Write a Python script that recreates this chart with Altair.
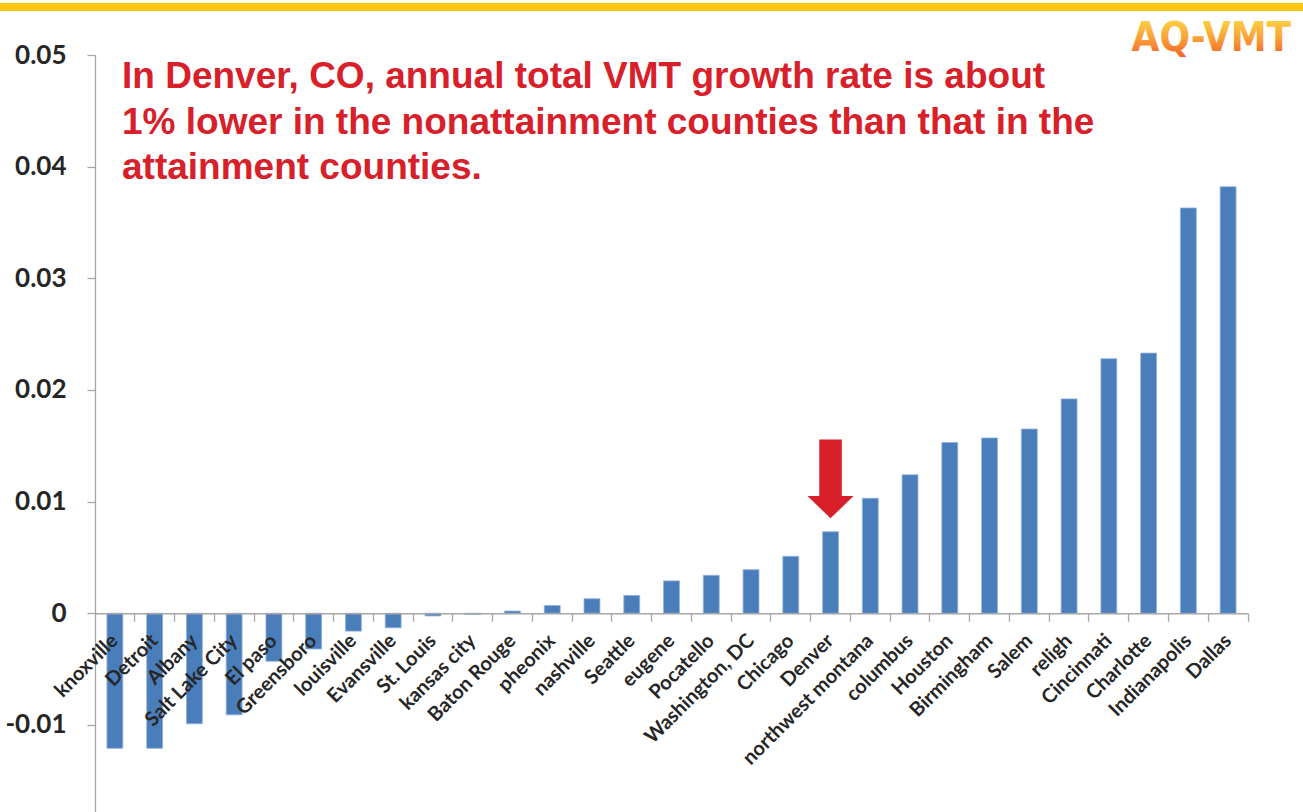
import altair as alt
import pandas as pd

cities = ["knoxville", "Detroit", "Albany", "Salt Lake City", "El paso", "Greensboro",
          "louisville", "Evansville", "St. Louis", "kansas city", "Baton Rouge", "pheonix",
          "nashville", "Seattle", "eugene", "Pocatello", "Washington, DC", "Chicago",
          "Denver", "northwest montana", "columbus", "Houston", "Birmingham", "Salem",
          "religh", "Cincinnati", "Charlotte", "Indianapolis", "Dallas"]
growth = [-0.0121, -0.0121, -0.0099, -0.0091, -0.0043, -0.0032,
          -0.0016, -0.0013, -0.00024, -0.0001, 0.0002, 0.0007,
          0.0013, 0.0016, 0.0029, 0.0034, 0.0039, 0.0051,
          0.0073, 0.0103, 0.0124, 0.0153, 0.0157, 0.0165,
          0.0192, 0.0228, 0.0233, 0.0363, 0.0382]
y_ticks = [-0.01, 0, 0.01, 0.02, 0.03, 0.04, 0.05]
y_domain = [-0.0178, 0.05]
headline = ["In Denver, CO, annual total VMT growth rate is about",
            "1% lower in the nonattainment counties than that in the",
            "attainment counties."]
arrow_city = ["Denver"]
arrow_center = [0.01204]
logo_text = "AQ-VMT"

W, H = 1153, 757
GREY = "#a6a6a6"
DARK = "#262626"
RED = "#d7202a"
zero_offset = -H * (0 - y_domain[0]) / (y_domain[1] - y_domain[0])

df = pd.DataFrame({"city": cities, "growth": growth})
arrow_df = pd.DataFrame({"city": arrow_city, "growth": arrow_center})

xscale = alt.Scale(domain=cities, paddingInner=0, paddingOuter=0)
yscale = alt.Scale(domain=y_domain, nice=False, zero=False)

y_axis = alt.Axis(values=y_ticks, orient="left",
                  labelExpr="datum.value == 0 ? '0' : (datum.value < 0 ? '-' + format(-datum.value, '.2f') : format(datum.value, '.2f'))",
                  labelFont="Lato", labelFontWeight="bold", labelFontSize=26,
                  labelColor=DARK, labelPadding=21, tickSize=8,
                  tickColor=GREY, tickWidth=1.3, domainColor=GREY,
                  domainWidth=1.3, grid=False)

bars = alt.Chart(df).mark_bar(
    color="#4a7ebb", width={"band": 0.4}, stroke="#93b3dc", strokeWidth=0.8
).encode(
    x=alt.X("city:N", sort=cities, scale=xscale, title=None,
            axis=alt.Axis(labels=False, ticks=True, tickSize=8, tickColor=GREY,
                          tickWidth=1.3, domainColor=GREY, domainWidth=1.3,
                          orient="bottom", bandPosition=1, offset=zero_offset,
                          grid=False, zindex=1)),
    y=alt.Y("growth:Q", scale=yscale, title=None, axis=y_axis),
)

labels = alt.Chart(df).mark_point(opacity=0).encode(
    x=alt.X("city:N", sort=cities, scale=xscale, title=None,
            axis=alt.Axis(domain=False, ticks=False, labelAngle=-45, orient="bottom",
                          labelAlign="right", labelBaseline="middle",
                          labelFont="Lato", labelFontWeight="bold", labelFontSize=20,
                          labelColor=DARK, labelPadding=24, offset=zero_offset,
                          grid=False, labelOverlap=False, zindex=2)),
    y=alt.Y("growth:Q", scale=yscale, title=None, axis=y_axis),
)

arrow_path = "M -0.49 -1.715 L 0.49 -1.715 L 0.49 0.75 L 1 0.75 L 0 1.715 L -1 0.75 L -0.49 0.75 Z"
arrow = alt.Chart(arrow_df).mark_point(
    shape=arrow_path, size=2116, filled=True, color=RED, opacity=1, strokeWidth=0
).encode(
    x=alt.X("city:N", sort=cities, scale=xscale, axis=None),
    y=alt.Y("growth:Q", scale=yscale, title=None, axis=y_axis),
)

title_text = alt.Chart(pd.DataFrame({"t": [0]})).mark_text(
    align="left", baseline="alphabetic", font="Liberation Sans", fontWeight="bold",
    fontSize=37, lineHeight=45.5, color=RED
).encode(x=alt.value(27), y=alt.value(33), text=alt.value(headline))

logo = alt.Chart(pd.DataFrame({"t": [0]})).mark_text(
    align="right", baseline="alphabetic", font="DejaVu Sans Condensed, DejaVu Sans",
    fontWeight="bold", fontSize=40,
    color=alt.LinearGradient(gradient="linear", x1=0, y1=0, x2=0, y2=1,
                             stops=[alt.GradientStop(offset=0, color="#fde047"),
                                    alt.GradientStop(offset=0.5, color="#f9a43a"),
                                    alt.GradientStop(offset=1, color="#f05a28")])
).encode(x=alt.value(1196), y=alt.value(-4), text=alt.value(logo_text))

top_band = alt.Chart(pd.DataFrame({"t": [0]})).mark_rule(
    color="#fcc60e", strokeWidth=8
).encode(x=alt.value(-95), x2=alt.value(1208), y=alt.value(-48))

chart = alt.layer(top_band, bars, labels, arrow, title_text, logo).resolve_axis(
    x="independent"
).properties(
    width=W, height=H,
    autosize=alt.AutoSizeParams(type="none"),
    padding={"left": 95, "top": 55, "right": 55, "bottom": 0},
    background="white",
).configure_view(stroke=None)

chart.save("out.html", embed_options={"renderer": "svg", "actions": False})
